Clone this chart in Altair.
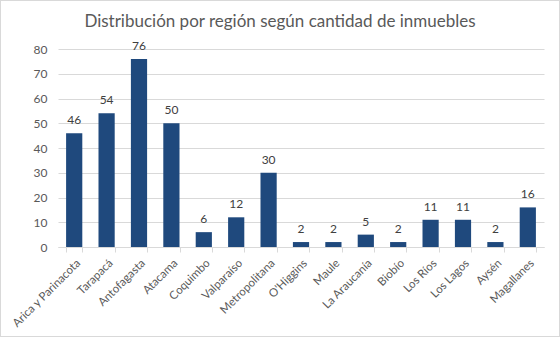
import altair as alt
import pandas as pd

regions = ["Arica y Parinacota", "Tarapacá", "Antofagasta", "Atacama", "Coquimbo",
           "Valparaíso", "Metropolitana", "O'Higgins", "Maule", "La Araucanía",
           "Biobío", "Los Ríos", "Los Lagos", "Aysén", "Magallanes"]
values = [46, 54, 76, 50, 6, 12, 30, 2, 2, 5, 2, 11, 11, 2, 16]
title_text = "Distribución por región según cantidad de inmuebles"

df = pd.DataFrame({"region": regions, "value": values})

W, H = 486, 198
L, T = 58, 49
FONT = "Lato"

x = alt.X("region:N", sort=regions, title=None,
          scale=alt.Scale(paddingInner=0.5, paddingOuter=0.25),
          axis=alt.Axis(labelAngle=-45, labelAlign="right", labelBaseline="top",
                        labelFont=FONT, labelFontSize=11.5, labelColor="#595959",
                        domainColor="#d9d9d9", tickColor="#d9d9d9", tickSize=5,
                        tickBand="extent", labelPadding=5))
y = alt.Y("value:Q", title=None,
          scale=alt.Scale(domain=[0, 80]),
          axis=alt.Axis(values=list(range(0, 81, 10)), grid=True, gridColor="#d9d9d9",
                        domain=False, ticks=False, labelFont=FONT, labelFontSize=12,
                        labelColor="#595959", labelPadding=11, labelOverlap=False))

bars = alt.Chart(df).mark_bar(color="#1f497d").encode(x=x, y=y)
labels = alt.Chart(df).mark_text(dy=-13, font=FONT, fontSize=12, color="#404040").encode(
    x=x, y=y, text="value:Q")

border = alt.Chart(df).mark_rect(fill=None, stroke="#d9d9d9", strokeWidth=1).encode(
    x=alt.value(-L + 0.5), x2=alt.value(560 - L - 0.5),
    y=alt.value(-T + 0.5), y2=alt.value(337 - T - 0.5))

title = alt.Chart(pd.DataFrame({"t": [title_text]})).mark_text(
    font=FONT, fontSize=17, color="#595959", align="center", baseline="middle"
).encode(x=alt.value(280 - L), y=alt.value(22 - T), text="t:N")

chart = alt.layer(bars, labels, border, title).properties(
    width=W, height=H,
    padding={"left": L, "top": T, "right": 560 - L - W, "bottom": 337 - T - H},
    autosize=alt.AutoSizeParams(type="none"),
    background="white",
).configure_view(stroke=None)

chart.save("out.html", embed_options={"renderer": "svg", "actions": False})
